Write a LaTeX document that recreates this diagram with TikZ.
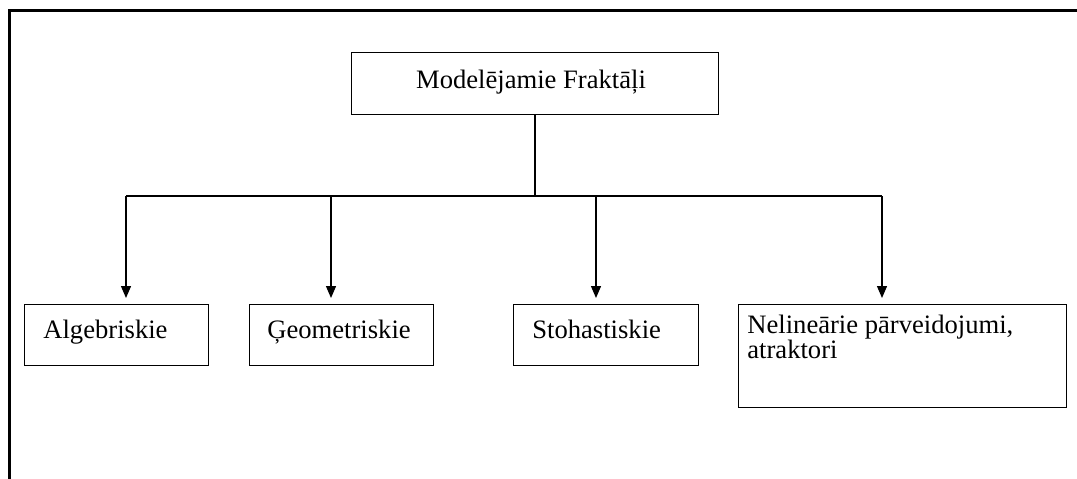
\documentclass[tikz,border=0pt]{standalone}
\usepackage{fontspec}
\setmainfont{Liberation Serif}
\usetikzlibrary{arrows.meta}
\begin{document}
\begin{tikzpicture}[x=0.5pt,y=-0.5pt,
  box/.style={draw, line width=0.6pt, inner sep=0pt, anchor=north west},
  txt/.style={inner sep=0pt, font=\fontsize{13.3}{12.5}\selectfont, anchor=base west},
  conn/.style={line width=0.65pt},
  arr/.style={conn, -{Triangle[length=6pt,width=5pt]}, shorten >=3pt}]
\useasboundingbox (0,0) rectangle (1077,478);
\draw[line width=1.5pt] (9.5,490) -- (9.5,10.5) -- (1090,10.5);
% boxes
\node[box, minimum width=183.5pt, minimum height=31pt] (top) at (351,52) {};
\node[box, minimum width=92pt, minimum height=30.5pt] (alg) at (24,304) {};
\node[box, minimum width=92pt, minimum height=30.5pt] (geo) at (249,304) {};
\node[box, minimum width=92.5pt, minimum height=30.5pt] (sto) at (513,304) {};
\node[box, minimum width=164pt, minimum height=51.5pt] (nel) at (738,304) {};
% texts
\node[txt, anchor=base] (topt) at (531,88) {Modelējamie Fraktāļi};
\node[txt] (algt) at (43,338) {Algebriskie};
\node[txt] (geot) at (267,338) {Ģeometriskie};
\node[txt] (stot) at (532,338) {Stohastiskie};
\node[txt] (nelt1) at (747,333) {Nelineārie pārveidojumi,};
\node[txt] (nelt2) at (747,358) {atraktori};
% connectors
\coordinate (j) at (535,196);
\coordinate (b1) at (126,196);
\coordinate (b2) at (331,196);
\coordinate (b3) at (596,196);
\coordinate (b4) at (882,196);
\draw[conn] (top.south) -- (top.south |- j);
\draw[conn] (b1) -- (b4);
\draw[arr] (b1) -- (b1 |- alg.north);
\draw[arr] (b2) -- (b2 |- geo.north);
\draw[arr] (b3) -- (b3 |- sto.north);
\draw[arr] (b4) -- (b4 |- nel.north);
\end{tikzpicture}
\end{document}
